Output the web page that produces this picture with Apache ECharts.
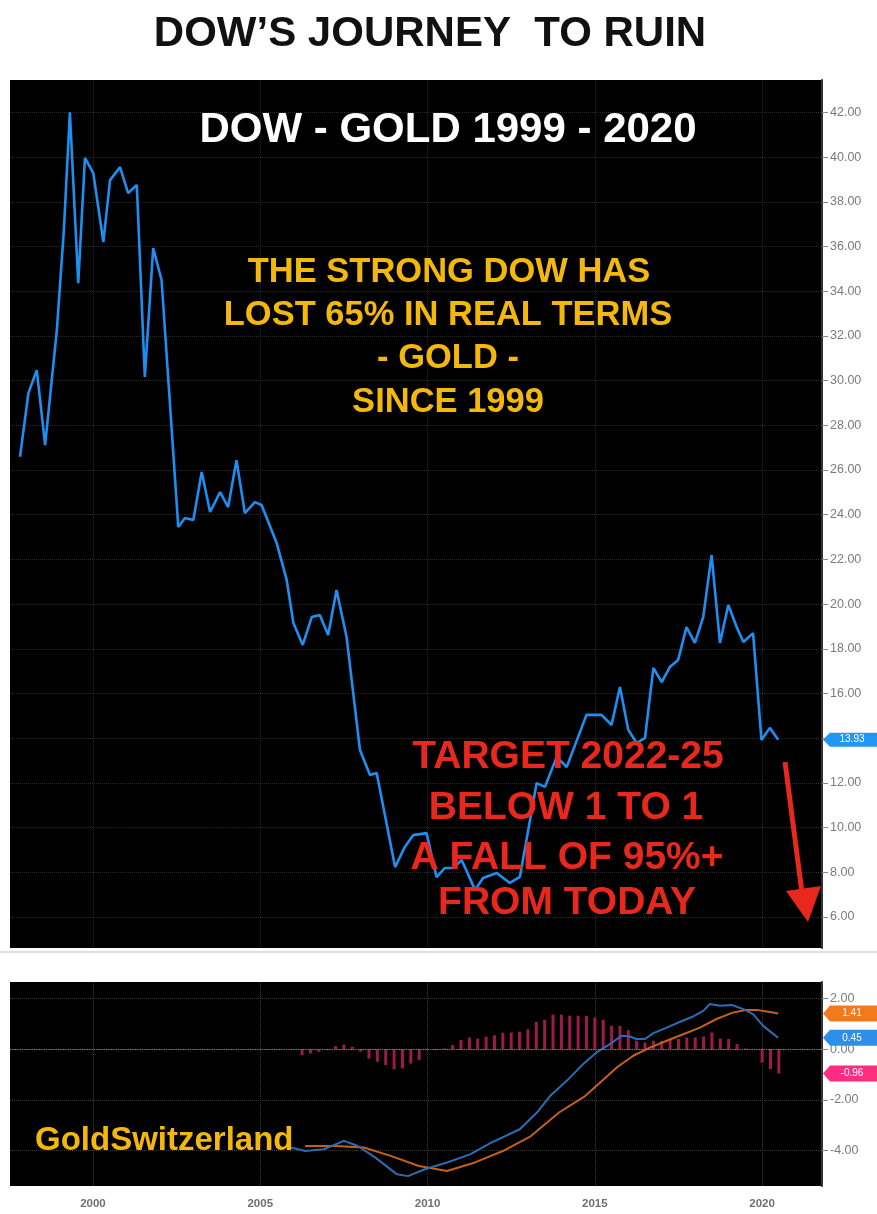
<!DOCTYPE html>
<html><head><meta charset="utf-8">
<script src="https://cdn.jsdelivr.net/npm/echarts@6/dist/echarts.min.js"></script>
<style>html,body{margin:0;padding:0;background:#fff}#c{width:877px;height:1214px}</style>
</head><body><div id="c"></div>
<script>
// ---- data ----
const yearTicks = [2000, 2005, 2010, 2015, 2020];
const ratioTicks = [6, 8, 10, 12, 14, 16, 18, 20, 22, 24, 26, 28, 30, 32, 34, 36, 38, 40, 42];
const macdTicks = [-4, -2, 0, 2];

// Dow / Gold ratio [decimal year, ratio]
const dowGold = [
  [1997.82,26.59],[1998.07,29.44],[1998.32,30.47],[1998.57,27.11],[1998.92,32.26],[1999.13,36.73],
  [1999.31,42.00],[1999.56,34.36],[1999.76,39.96],[2000.01,39.28],[2000.31,36.20],[2000.51,38.97],
  [2000.81,39.55],[2001.05,38.39],[2001.31,38.75],[2001.55,30.16],[2001.80,35.93],[2002.05,34.50],
  [2002.55,23.45],[2002.75,23.85],[2003.00,23.76],[2003.25,25.91],[2003.50,24.12],[2003.80,25.01],
  [2004.04,24.34],[2004.29,26.44],[2004.54,24.07],[2004.84,24.56],[2005.04,24.43],[2005.49,22.73],
  [2005.79,21.08],[2005.99,19.15],[2006.27,18.17],[2006.54,19.42],[2006.78,19.51],[2007.03,18.62],
  [2007.28,20.63],[2007.58,18.53],[2007.98,13.47],[2008.28,12.35],[2008.48,12.44],[2009.03,8.23],
  [2009.32,9.13],[2009.57,9.66],[2009.97,9.75],[2010.27,7.78],[2010.52,8.19],[2010.77,8.19],
  [2011.02,8.55],[2011.42,7.21],[2011.66,7.74],[2012.07,7.97],[2012.46,7.52],[2012.76,7.79],
  [2013.26,11.99],[2013.51,11.82],[2013.86,13.16],[2014.16,12.71],[2014.75,15.04],[2015.20,15.04],
  [2015.50,14.59],[2015.75,16.29],[2016.00,14.37],[2016.25,13.78],[2016.50,14.01],[2016.75,17.14],
  [2017.00,16.51],[2017.24,17.18],[2017.49,17.50],[2017.74,18.97],[2017.99,18.26],[2018.24,19.42],
  [2018.49,22.19],[2018.74,18.26],[2018.99,19.96],[2019.24,18.97],[2019.44,18.30],[2019.73,18.70],
  [2019.98,13.92],[2020.23,14.46],[2020.48,13.93]
];

// MACD line (blue)
const macdLine = [
  [2005.92,-3.88],[2006.34,-4.02],[2006.90,-3.95],[2007.50,-3.62],[2007.92,-3.82],[2008.43,-4.27],
  [2009.09,-4.94],[2009.41,-5.01],[2009.92,-4.74],[2010.58,-4.47],[2011.27,-4.15],[2011.92,-3.68],
  [2012.76,-3.16],[2013.27,-2.50],[2013.66,-1.85],[2014.16,-1.25],[2014.65,-0.59],[2015.05,-0.13],
  [2015.45,0.20],[2015.80,0.53],[2016.05,0.50],[2016.25,0.40],[2016.50,0.40],[2016.75,0.63],
  [2017.15,0.85],[2017.55,1.08],[2017.94,1.29],[2018.24,1.51],[2018.44,1.78],[2018.74,1.71],
  [2019.09,1.74],[2019.44,1.58],[2019.73,1.38],[2020.03,0.92],[2020.48,0.45]
];

// Signal line (orange)
const signalLine = [
  [2006.34,-3.82],[2007.26,-3.82],[2008.10,-3.88],[2008.92,-4.22],[2009.74,-4.61],[2010.58,-4.81],
  [2011.42,-4.47],[2012.25,-4.02],[2013.09,-3.43],[2013.93,-2.50],[2014.71,-1.85],[2015.16,-1.32],
  [2015.65,-0.73],[2016.15,-0.26],[2016.65,0.06],[2017.15,0.33],[2017.64,0.59],[2018.14,0.85],
  [2018.64,1.19],[2019.14,1.45],[2019.54,1.55],[2019.84,1.55],[2020.23,1.47],[2020.48,1.41]
];

// Histogram (quarterly bars)
const histogram = [
  [2006.25,-0.24],[2006.50,-0.17],[2006.75,-0.10],[2007.00,-0.04],[2007.25,0.12],[2007.50,0.18],
  [2007.75,0.09],[2008.00,-0.10],[2008.25,-0.37],[2008.50,-0.50],[2008.75,-0.63],[2009.00,-0.80],
  [2009.25,-0.76],[2009.50,-0.57],[2009.75,-0.43],[2010.00,-0.04],[2010.25,-0.04],[2010.50,0.03],
  [2010.75,0.16],[2011.00,0.36],[2011.25,0.46],[2011.50,0.42],[2011.75,0.49],[2012.00,0.55],
  [2012.25,0.65],[2012.50,0.66],[2012.75,0.69],[2013.00,0.78],[2013.25,1.08],[2013.50,1.16],
  [2013.75,1.36],[2014.00,1.36],[2014.25,1.32],[2014.50,1.32],[2014.75,1.32],[2015.00,1.25],
  [2015.25,1.16],[2015.50,0.92],[2015.75,0.92],[2016.00,0.75],[2016.25,0.33],[2016.50,0.26],
  [2016.75,0.33],[2017.00,0.33],[2017.25,0.40],[2017.50,0.40],[2017.75,0.46],[2018.00,0.46],
  [2018.25,0.50],[2018.50,0.66],[2018.75,0.42],[2019.00,0.40],[2019.25,0.20],[2019.50,0.03],
  [2019.75,0.00],[2020.00,-0.53],[2020.25,-0.79],[2020.50,-0.96]
];

const lastRatio = 13.93, lastSignal = 1.41, lastMacd = 0.45, lastHist = -0.96;

// ---- chart ----
const chart = echarts.init(document.getElementById('c'), null, {renderer: 'canvas'});
const FONT = '"Liberation Sans", Arial, sans-serif';
const xCommon = {
  type: 'value', min: 1997.52, max: 2021.79,
  axisLine: {show: false},
  axisTick: {show: false, customValues: yearTicks},
  splitLine: {show: true, lineStyle: {type: 'dotted', color: '#262626', width: 1}}
};
const yLabel = {
  color: '#7a7a7a', fontSize: 12.5, fontFamily: FONT, margin: 8,
  formatter: v => v.toFixed(2)
};

const option = {
  backgroundColor: '#fff',
  animation: false,
  grid: [
    {left: 10, right: 55, top: 80, bottom: 266, show: true, backgroundColor: '#000', borderWidth: 0},
    {left: 10, right: 55, top: 982, bottom: 28, show: true, backgroundColor: '#000', borderWidth: 0}
  ],
  xAxis: [
    Object.assign({}, xCommon, {gridIndex: 0, axisLabel: {show: false, customValues: yearTicks}}),
    Object.assign({}, xCommon, {gridIndex: 1,
      axisLabel: {show: true, customValues: yearTicks, color: '#707070', fontSize: 11.5, fontWeight: 'bold', fontFamily: FONT, margin: 12,
        formatter: v => String(v)},
      splitLine: {show: true, lineStyle: {type: 'dotted', color: '#3a3a3a', width: 1}}})
  ],
  yAxis: [
    {gridIndex: 0, type: 'value', position: 'right', min: 4.61, max: 43.45,
     axisLine: {show: true, lineStyle: {color: '#333', width: 2}},
     axisTick: {show: true, length: 6, customValues: ratioTicks, lineStyle: {color: '#888'}},
     axisLabel: Object.assign({customValues: ratioTicks}, yLabel),
     splitLine: {show: true, lineStyle: {type: 'dotted', color: '#2a2a2a', width: 1}}},
    {gridIndex: 1, type: 'value', position: 'right', min: -5.40, max: 2.65,
     axisLine: {show: true, lineStyle: {color: '#333', width: 2}},
     axisTick: {show: true, length: 6, customValues: macdTicks, lineStyle: {color: '#888'}},
     axisLabel: Object.assign({customValues: macdTicks}, yLabel),
     splitLine: {show: true, lineStyle: {type: 'dotted', color: '#3a3a3a', width: 1}}}
  ],
  series: [
    {type: 'line', xAxisIndex: 0, yAxisIndex: 0, data: dowGold, showSymbol: false,
     lineStyle: {color: '#1e8ff0', width: 2.6}, z: 3},
    {type: 'bar', xAxisIndex: 1, yAxisIndex: 1, data: histogram, barWidth: 3,
     itemStyle: {color: '#9e1a4c'}, z: 2,
     markLine: {silent: true, symbol: 'none', label: {show: false},
       lineStyle: {type: 'dotted', color: '#8a8a8a', width: 1.2}, data: [{yAxis: 0}]}},
    {type: 'line', xAxisIndex: 1, yAxisIndex: 1, data: signalLine, showSymbol: false,
     lineStyle: {color: '#c45f1c', width: 2}, z: 3},
    {type: 'line', xAxisIndex: 1, yAxisIndex: 1, data: macdLine, showSymbol: false,
     lineStyle: {color: '#2b6db5', width: 2}, z: 4}
  ]
};
chart.setOption(option);

function txt(x, y, s, size, color) {
  return {type: 'text', x: x, y: y, z: 20, silent: true,
    style: {text: s, fill: color, font: 'bold ' + size + 'px ' + FONT, textAlign: 'center', textVerticalAlign: 'middle'}};
}
function tag(val, axisIdx, color, h) {
  const y = chart.convertToPixel({yAxisIndex: axisIdx}, val);
  const x0 = 823, x1 = 877, hh = h / 2;
  return [
    {type: 'polygon', z: 30, silent: true,
     shape: {points: [[x0, y], [x0 + 7, y - hh], [x1, y - hh], [x1, y + hh], [x0 + 7, y + hh]]},
     style: {fill: color}},
    {type: 'text', z: 31, silent: true, x: 852, y: y,
     style: {text: val.toFixed(2), fill: '#fff', font: '10px ' + FONT, textAlign: 'center', textVerticalAlign: 'middle'}}
  ];
}

const yellow = '#f4b80c', red = '#e8281d';
const g = [
  txt(430, 34, 'DOW’S JOURNEY  TO RUIN', 42, '#111'),
  txt(448, 130, 'DOW - GOLD 1999 - 2020', 42, '#fff'),
  txt(449, 272, 'THE STRONG DOW HAS', 34.5, yellow),
  txt(448, 315, 'LOST 65% IN REAL TERMS', 34.5, yellow),
  txt(448, 358, '- GOLD -', 34.5, yellow),
  txt(448, 402, 'SINCE 1999', 34.5, yellow),
  txt(568, 757, 'TARGET 2022-25', 39, red),
  txt(566, 808, 'BELOW 1 TO 1', 39, red),
  txt(567, 858, 'A FALL OF 95%+', 39, red),
  txt(567, 903, 'FROM TODAY', 39, red),
  {type: 'text', x: 35, y: 1141, z: 20, silent: true,
   style: {text: 'GoldSwitzerland', fill: yellow, font: 'bold 33px ' + FONT, textAlign: 'left', textVerticalAlign: 'middle'}},
  {type: 'line', z: 20, silent: true, shape: {x1: 785, y1: 762, x2: 802, y2: 893},
   style: {stroke: red, lineWidth: 5}},
  {type: 'polygon', z: 20, silent: true, shape: {points: [[786, 891], [821, 886], [808, 922]]},
   style: {fill: red}},
  {type: 'line', z: 1, silent: true, shape: {x1: 0, y1: 952, x2: 877, y2: 952}, style: {stroke: '#bdbdbd', lineWidth: 1}}
].concat(
  tag(lastRatio, 0, '#2196f3', 14),
  tag(lastSignal, 1, '#f07a1c', 16),
  tag(lastMacd, 1, '#2f8fe8', 16),
  tag(lastHist, 1, '#ff2d80', 16)
);
chart.setOption({graphic: g});
</script>
</body></html>
